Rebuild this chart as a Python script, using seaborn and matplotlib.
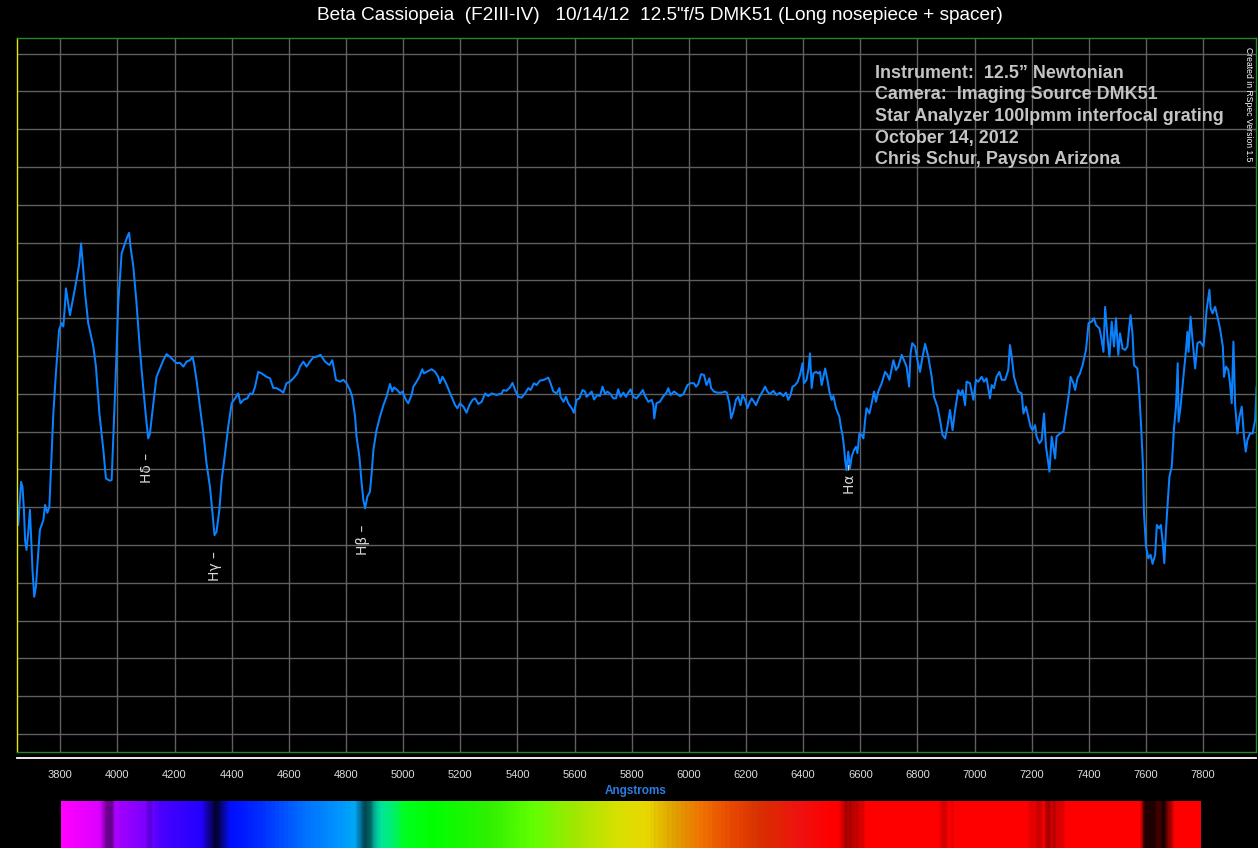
import numpy as np
import pandas as pd
import matplotlib
matplotlib.use("Agg")
import matplotlib.pyplot as plt
import seaborn as sns
from matplotlib.colors import LinearSegmentedColormap, to_rgb

# ---------------- data (wavelength in Angstrom, relative flux) ----------------
seg_violet = [
    (3653, 0.553), (3663, 0.667), (3668, 0.654), (3673, 0.593), (3677, 0.513), (3682, 0.487),
    (3688, 0.532), (3694, 0.593), (3698, 0.522), (3703, 0.434), (3709, 0.363), (3715, 0.390),
    (3723, 0.479), (3729, 0.540), (3741, 0.566), (3747, 0.606), (3755, 0.585), (3762, 0.601),
    (3770, 0.743), (3776, 0.849), (3785, 0.955), (3796, 1.069), (3805, 1.087), (3811, 1.078),
    (3817, 1.140), (3820, 1.179), (3825, 1.153), (3834, 1.108), (3846, 1.157), (3857, 1.201),
    (3867, 1.246), (3873, 1.298), (3878, 1.254), (3887, 1.166), (3898, 1.087), (3916, 1.025),
    (3925, 0.972), (3937, 0.849), (3951, 0.751), (3960, 0.676), (3974, 0.670), (3980, 0.672),
    (3986, 0.787), (3995, 0.963), (4003, 1.140), (4015, 1.272), (4027, 1.298), (4035, 1.316),
    (4041, 1.326), (4046, 1.289), (4056, 1.236), (4067, 1.140), (4079, 1.016), (4088, 0.937),
    (4100, 0.839), (4108, 0.782), (4114, 0.795), (4126, 0.875), (4137, 0.945), (4149, 0.967),
    (4161, 0.989), (4172, 1.005), (4184, 0.998), (4196, 0.989), (4207, 0.981), (4219, 0.982),
    (4231, 0.972), (4242, 0.985), (4254, 0.989), (4263, 0.998), (4268, 0.981), (4277, 0.937),
    (4289, 0.866), (4301, 0.795), (4312, 0.716), (4324, 0.654), (4333, 0.584), (4340, 0.526),
    (4347, 0.535), (4357, 0.593), (4365, 0.672), (4377, 0.743), (4388, 0.813), (4400, 0.875),
    (4412, 0.888), (4423, 0.901), (4431, 0.875), (4441, 0.884), (4455, 0.888), (4464, 0.901),
    (4473, 0.899), (4482, 0.919), (4493, 0.958), (4505, 0.954), (4522, 0.945), (4534, 0.941),
    (4546, 0.915), (4557, 0.915), (4569, 0.910), (4581, 0.903), (4592, 0.928), (4604, 0.932),
    (4616, 0.941), (4630, 0.954), (4639, 0.972), (4651, 0.985), (4662, 0.972), (4674, 0.985),
    (4686, 0.997), (4697, 0.998), (4711, 1.003), (4727, 0.985), (4742, 0.976),
]
seg_green = [
    (4752, 0.989), (4758, 0.967), (4765, 0.937), (4779, 0.932), (4791, 0.937), (4802, 0.928),
    (4814, 0.910), (4822, 0.892), (4832, 0.839), (4837, 0.787), (4847, 0.734), (4855, 0.663),
    (4861, 0.619), (4867, 0.597), (4875, 0.628), (4884, 0.641), (4890, 0.690), (4896, 0.751),
    (4907, 0.804), (4919, 0.839), (4931, 0.870), (4942, 0.892), (4954, 0.926), (4962, 0.906),
    (4968, 0.917), (4980, 0.910), (4989, 0.901), (4998, 0.906), (5010, 0.884), (5018, 0.875),
    (5030, 0.897), (5036, 0.919), (5047, 0.932), (5057, 0.945), (5067, 0.965), (5073, 0.954),
    (5082, 0.958), (5100, 0.965), (5112, 0.958), (5123, 0.945), (5129, 0.928), (5138, 0.945),
    (5150, 0.928), (5162, 0.906), (5170, 0.892), (5182, 0.870), (5190, 0.862), (5199, 0.875),
    (5211, 0.866), (5222, 0.850), (5232, 0.870), (5243, 0.884), (5252, 0.888), (5263, 0.873),
    (5275, 0.879), (5287, 0.901), (5298, 0.894), (5310, 0.901), (5327, 0.897), (5345, 0.901),
    (5351, 0.910), (5362, 0.908), (5374, 0.917), (5383, 0.929), (5392, 0.910), (5403, 0.892),
    (5415, 0.890), (5427, 0.901), (5438, 0.915), (5446, 0.910), (5458, 0.928), (5467, 0.923),
    (5479, 0.935), (5493, 0.937), (5508, 0.943), (5516, 0.928), (5526, 0.906), (5537, 0.901),
    (5547, 0.915), (5551, 0.892), (5561, 0.879), (5570, 0.892), (5578, 0.875), (5590, 0.862),
    (5598, 0.850), (5607, 0.884), (5617, 0.888), (5628, 0.910), (5637, 0.906), (5642, 0.892),
    (5654, 0.901), (5660, 0.906), (5668, 0.885), (5680, 0.897), (5689, 0.894), (5698, 0.919),
    (5707, 0.899), (5715, 0.906), (5726, 0.899), (5736, 0.888), (5745, 0.888), (5753, 0.912),
    (5761, 0.892), (5771, 0.903), (5780, 0.892), (5788, 0.903), (5796, 0.912), (5806, 0.892),
    (5817, 0.888), (5827, 0.897),
]
seg_orange = [
    (5839, 0.910), (5847, 0.894), (5858, 0.879), (5870, 0.884), (5876, 0.870), (5879, 0.835),
    (5887, 0.875), (5899, 0.879), (5911, 0.894), (5922, 0.903), (5928, 0.915), (5936, 0.897),
    (5948, 0.906), (5957, 0.901), (5969, 0.894), (5981, 0.899), (5995, 0.923), (6006, 0.928),
    (6018, 0.928), (6025, 0.919), (6033, 0.926), (6043, 0.952), (6053, 0.950), (6062, 0.923),
    (6072, 0.941), (6078, 0.915), (6088, 0.906), (6100, 0.903), (6115, 0.903), (6127, 0.906),
    (6133, 0.903), (6142, 0.875), (6148, 0.835), (6156, 0.853), (6165, 0.884), (6173, 0.892),
    (6181, 0.870), (6188, 0.897), (6197, 0.884), (6205, 0.862), (6212, 0.876), (6220, 0.888),
    (6228, 0.879), (6235, 0.870), (6247, 0.892), (6258, 0.906), (6267, 0.919), (6275, 0.906),
    (6284, 0.899), (6296, 0.908), (6307, 0.897), (6319, 0.903), (6331, 0.894), (6340, 0.903),
    (6348, 0.884), (6356, 0.897), (6363, 0.919), (6372, 0.923), (6381, 0.932), (6389, 0.950),
    (6398, 0.981), (6403, 0.928), (6412, 0.937), (6419, 0.967), (6424, 1.007), (6430, 0.915),
    (6436, 0.954), (6445, 0.958), (6453, 0.954), (6459, 0.958), (6465, 0.923), (6477, 0.967),
    (6485, 0.937), (6492, 0.906), (6500, 0.884), (6506, 0.894), (6515, 0.862), (6527, 0.839),
    (6532, 0.813), (6538, 0.791), (6543, 0.760), (6547, 0.725), (6552, 0.698), (6558, 0.747),
    (6564, 0.703), (6570, 0.734), (6578, 0.751), (6585, 0.760), (6590, 0.743), (6597, 0.795),
    (6605, 0.791), (6611, 0.782), (6617, 0.831), (6622, 0.862), (6632, 0.848), (6640, 0.875),
    (6648, 0.906), (6655, 0.879), (6663, 0.906), (6675, 0.928), (6687, 0.958), (6695, 0.950),
    (6702, 0.937), (6716, 0.989), (6725, 0.963), (6733, 0.972), (6745, 1.003), (6753, 0.989),
    (6762, 0.972), (6771, 0.919), (6776, 1.007), (6782, 1.034), (6792, 1.025), (6800, 0.989),
    (6809, 0.958), (6818, 0.998), (6827, 1.032), (6838, 0.998), (6850, 0.945), (6858, 0.892),
    (6870, 0.866), (6879, 0.831),
]
seg_red = [
    (6888, 0.791), (6897, 0.782), (6905, 0.813), (6914, 0.857), (6923, 0.804), (6932, 0.857),
    (6943, 0.910), (6951, 0.897), (6958, 0.910), (6967, 0.870), (6972, 0.932), (6984, 0.928),
    (6996, 0.884), (7005, 0.937), (7013, 0.932), (7025, 0.945), (7033, 0.932), (7042, 0.941),
    (7054, 0.888), (7060, 0.923), (7068, 0.915), (7077, 0.945), (7087, 0.958), (7095, 0.937),
    (7107, 0.937), (7118, 0.963), (7124, 1.029), (7130, 0.998), (7138, 0.945), (7153, 0.906),
    (7165, 0.901), (7171, 0.848), (7180, 0.866), (7188, 0.839), (7196, 0.813), (7203, 0.804),
    (7212, 0.817), (7217, 0.787), (7227, 0.769), (7235, 0.778), (7243, 0.848), (7250, 0.760),
    (7255, 0.734), (7262, 0.694), (7270, 0.787), (7282, 0.729), (7287, 0.787), (7299, 0.795),
    (7311, 0.800), (7320, 0.848), (7332, 0.910), (7336, 0.945), (7346, 0.928), (7352, 0.910),
    (7360, 0.941), (7369, 0.954), (7378, 0.976), (7390, 1.016), (7399, 1.087), (7410, 1.091),
    (7418, 1.100), (7425, 1.082), (7437, 1.073), (7445, 1.042), (7451, 1.011), (7457, 1.130),
    (7465, 1.051), (7472, 0.998), (7480, 1.091), (7488, 1.025), (7495, 1.100), (7503, 1.003),
    (7509, 1.060), (7518, 1.020), (7527, 1.016), (7535, 1.025), (7541, 1.073), (7546, 1.108),
    (7553, 1.056), (7558, 0.976), (7570, 0.967), (7577, 0.897), (7583, 0.813), (7589, 0.716),
    (7593, 0.584), (7600, 0.496), (7608, 0.465), (7616, 0.474), (7623, 0.450), (7632, 0.474),
    (7638, 0.553), (7646, 0.544), (7652, 0.553), (7659, 0.504), (7664, 0.452), (7670, 0.540),
    (7675, 0.601), (7682, 0.681), (7690, 0.707), (7698, 0.809), (7705, 0.866), (7711, 0.981),
    (7714, 0.826), (7721, 0.866), (7731, 0.945), (7740, 1.016), (7745, 1.064), (7749, 1.011),
    (7756, 1.104), (7763, 1.042), (7772, 0.967), (7780, 1.034), (7789, 1.038), (7801, 1.025),
    (7807, 1.069), (7812, 1.122), (7822, 1.175), (7826, 1.126), (7833, 1.113), (7842, 1.130),
    (7850, 1.104), (7859, 1.073), (7869, 1.025), (7873, 0.945), (7880, 0.972), (7888, 0.963),
    (7894, 0.928), (7900, 0.875), (7906, 1.038), (7912, 0.870), (7920, 0.795), (7927, 0.839),
    (7935, 0.866), (7943, 0.787), (7949, 0.747), (7955, 0.778), (7964, 0.795), (7973, 0.795),
    (7982, 0.831), (7987, 0.919),
]

line_names = ["H\u03b4", "H\u03b3", "H\u03b2", "H\u03b1"]
line_wavelengths = [4102, 4340, 4861, 6563]
line_label_top = [0.743, 0.484, 0.553, 0.717]

x_ticks = list(range(3800, 7801, 200))

title = 'Beta Cassiopeia  (F2III-IV)   10/14/12  12.5"f/5 DMK51 (Long nosepiece + spacer)'
info_lines = [
    "Instrument:  12.5\u201d Newtonian",
    "Camera:  Imaging Source DMK51",
    "Star Analyzer 100lpmm interfocal grating",
    "October 14, 2012",
    "Chris Schur, Payson Arizona",
]

# ---------------- build frame ----------------
pairs = seg_violet + seg_green + seg_orange + seg_red
df = pd.DataFrame(pairs, columns=["wavelength", "flux"])

sns.set_style("dark")
plt.rcParams["font.family"] = ["Liberation Sans", "DejaVu Sans"]

W, H = 1258, 848
fig = plt.figure(figsize=(W / 100, H / 100), dpi=100, facecolor="black")

XMIN, XMAX = 3647, 7985
ax = fig.add_axes([16.5 / W, 1 - 752 / H, (1256 - 16.5) / W, (752 - 38) / H])
ax.set_facecolor("black")
sns.lineplot(data=df, x="wavelength", y="flux", ax=ax, color="#0A82FF", lw=1.45,
             sort=False, estimator=None, legend=False)
ax.set_xlim(XMIN, XMAX)
ax.set_ylim(-0.0476, 1.8413)
ax.set_xticks(x_ticks)
ax.set_yticks(np.round(np.arange(0, 1.81, 0.1), 2))
ax.tick_params(length=0, labelbottom=False, labelleft=False)
ax.grid(True, color="#606060", lw=1.0)
ax.set_axisbelow(True)
ax.set_xlabel("")
ax.set_ylabel("")
for side, sp in ax.spines.items():
    sp.set_visible(True)
    sp.set_linewidth(1.0)
    sp.set_color("#E8E800" if side == "left" else "#238A23")

# spectral line labels
for name, lam, ytop in zip(line_names, line_wavelengths, line_label_top):
    ax.text(lam, ytop, f"{name} \u2013", rotation=90, ha="center", va="top",
            color="#D8D8D8", fontsize=10, family=["DejaVu Sans"])

# separate wavelength axis below plot
axx = fig.add_axes([16.5 / W, 1 - 758 / H, (1256 - 16.5) / W, 0.0005])
axx.set_facecolor("none")
axx.set_xlim(XMIN, XMAX)
axx.set_yticks([])
for side, sp in axx.spines.items():
    sp.set_visible(side == "bottom")
axx.spines["bottom"].set_color("white")
axx.spines["bottom"].set_linewidth(1.3)
axx.set_xticks(x_ticks)
axx.set_xticklabels([str(t) for t in x_ticks])
axx.tick_params(axis="x", direction="out", length=5, width=1.2, color="white",
                labelcolor="#DCDCDC", labelsize=8, pad=4)

fig.text(636 / W, 1 - 791 / H, "Angstroms", color="#2A7DE1", fontweight="bold",
         fontsize=8.5, ha="center", va="center")

# synthetic spectrum strip
spec_anchor_wl = [3800, 3920, 4000, 4080, 4150, 4300, 4400, 4500, 4650, 4780, 4850, 4900,
                  4960, 5000, 5100, 5300, 5450, 5600, 5750, 5850, 5950, 6050, 6150, 6250,
                  6400, 6500, 7800]
spec_anchor_col = ["#FF00FF", "#E000FF", "#A000FF", "#8000FF", "#4800FF", "#2000FF",
                   "#0010FF", "#0030FF", "#0070FF", "#0098FF", "#00B0F0", "#00E0B0",
                   "#00F070", "#00FF20", "#00FF00", "#30F000", "#60FF00", "#A0E800",
                   "#D8E000", "#E8D800", "#E0A000", "#F07000", "#E84800", "#D83000",
                   "#F01010", "#FF0000", "#FF0000"]
lo, hi = spec_anchor_wl[0], spec_anchor_wl[-1]
cmap = LinearSegmentedColormap.from_list(
    "strip", [((w - lo) / (hi - lo), to_rgb(c)) for w, c in zip(spec_anchor_wl, spec_anchor_col)])

S0, S1 = 3802, 7793
axs = fig.add_axes([61 / W, 0, 1140 / W, 47.5 / H])
axs.axis("off")
grid_wl = np.linspace(S0, S1, 1140)
grid_fl = np.interp(grid_wl, df["wavelength"], df["flux"])
base = cmap((grid_wl - lo) / (hi - lo))[:, :3]
bright = np.clip((grid_fl - 0.45) / 0.40, 0.12, 1.0)
rgb = base * bright[:, None]
img = np.repeat(rgb[None, :, :], 2, axis=0)
axs.imshow(img, aspect="auto", extent=(S0, S1, 0, 1), interpolation="bilinear")
axs.set_xlim(S0, S1)

# texts
fig.text(659.5 / W, 1 - 16 / H, title, ha="center", va="center", color="white", fontsize=13.7)
for i, line in enumerate(info_lines):
    fig.text(875 / W, 1 - (73 + 21.75 * i) / H, line, ha="left", va="center",
             color="#C4C4C4", fontsize=12.9, fontweight="bold")
fig.text(1249 / W, 1 - 47 / H, "Created in RSpec Version 1.5", rotation=270,
         ha="center", va="top", color="white", fontsize=6.2)

fig.savefig("out.png", dpi=100, facecolor="black")
